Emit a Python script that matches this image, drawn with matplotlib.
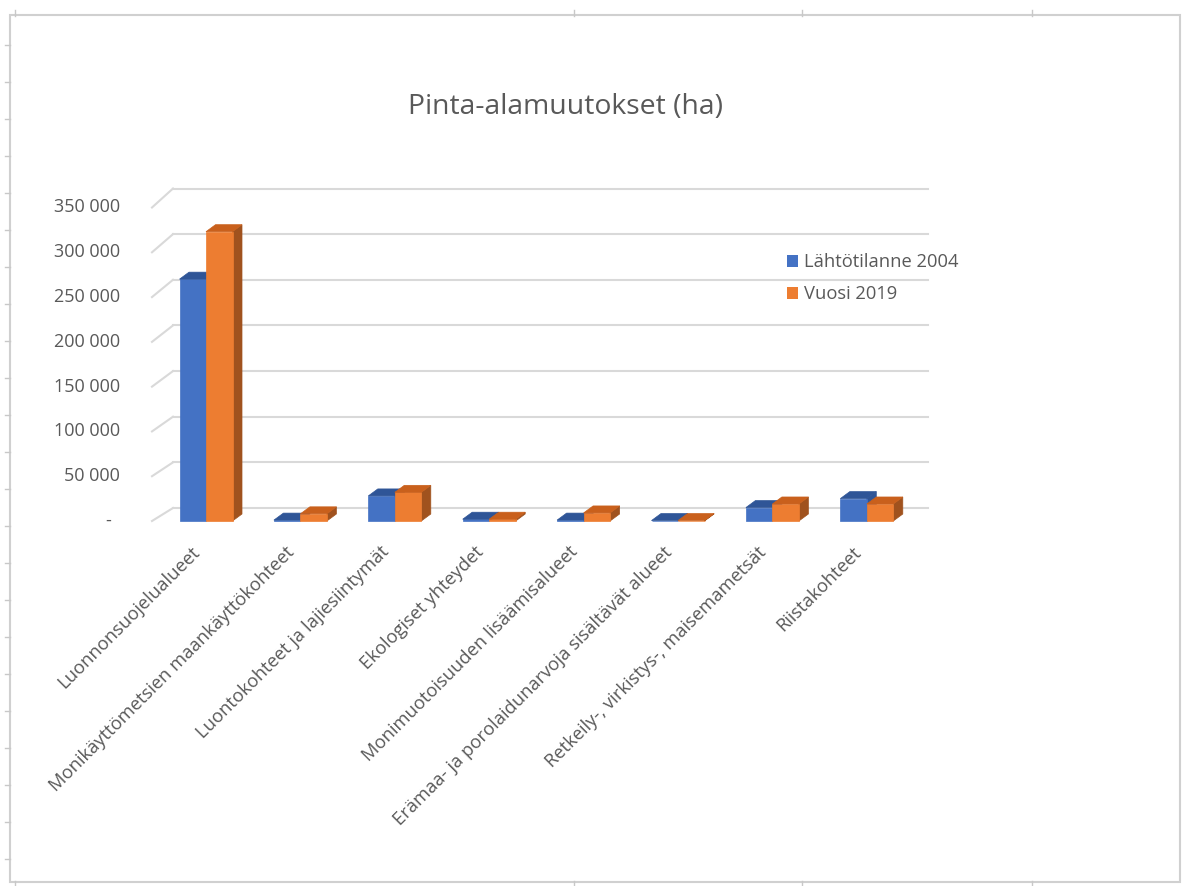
import matplotlib
matplotlib.use("Agg")
import matplotlib.pyplot as plt
from matplotlib.patches import Polygon, Rectangle
from matplotlib.lines import Line2D

plt.rcParams['font.family'] = ['Open Sans', 'DejaVu Sans']

# Data (hectares)
categories = [
    "Luonnonsuojelualueet",
    "Monikäyttömetsien maankäyttökohteet",
    "Luontokohteet ja lajiesiintymät",
    "Ekologiset yhteydet",
    "Monimuotoisuuden lisäämisalueet",
    "Erämaa- ja porolaidunarvoja sisältävät alueet",
    "Retkeily-, virkistys-, maisemametsät",
    "Riistakohteet",
]
series_names = ["Lähtötilanne 2004", "Vuosi 2019"]
values_2004 = [270000, 1000, 28000, 2000, 1000, 500, 15000, 25000]
values_2019 = [323000, 8000, 32000, 2000, 9000, 500, 19000, 19000]
y_ticks = [0, 50000, 100000, 150000, 200000, 250000, 300000, 350000]
y_tick_labels = ["-", "50 000", "100 000", "150 000", "200 000",
                 "250 000", "300 000", "350 000"]

W, H = 1184, 886
BLUE = ["#4472C4", "#2F5597", "#2F5597"]     # front, top, side
ORANGE = ["#ED7D31", "#C9601C", "#A0521E"]
GRID = "#D9D9D9"
TXT = "#595959"


def main():
    fig = plt.figure(figsize=(W / 100, H / 100), dpi=100)

    # page frame and the little spreadsheet tick marks around it
    deco = fig.add_axes([0, 0, 1, 1])
    deco.set_xlim(0, W)
    deco.set_ylim(H, 0)
    deco.axis("off")
    deco.add_patch(Rectangle((10, 15), 1170, 867, fill=False,
                             edgecolor="#D0D0D0", lw=1.5))
    for x in [15, 574, 802, 1032]:
        deco.plot([x, x], [10, 16], color="#C8C8C8", lw=1)
        deco.plot([x, x], [881, 886], color="#C8C8C8", lw=1)
    for y in range(45, 880, 37):
        deco.plot([5, 10], [y, y], color="#C8C8C8", lw=1)

    # main axes: front plane, x = category index, y = value
    x_left, x_right = 158.8, 914.0
    y_zero, y_top = 521.0, 207.5
    ax = fig.add_axes([x_left / W, (H - y_zero) / H,
                       (x_right - x_left) / W, (y_zero - y_top) / H])
    ax.set_xlim(-0.5, 7.5)
    ax.set_ylim(0, 350000)
    ax.axis("off")

    px_x = (x_right - x_left) / 8.0          # pixels per category
    px_y = (y_zero - y_top) / 350000.0       # pixels per unit

    def dx(p):  # pixel column -> category units
        return (p - x_left) / px_x - 0.5

    def wall_dy(v):
        return (13 + 6 * v / 350000) / px_y

    # back wall gridlines + left side wall diagonals
    for v in y_ticks:
        by = v + wall_dy(v)
        ax.add_line(Line2D([dx(173), dx(928)], [by, by],
                           color=GRID, lw=1.5, clip_on=False, zorder=1))
        ax.add_line(Line2D([dx(152), dx(173)], [v, by],
                           color=GRID, lw=1.5, clip_on=False, zorder=1))

    # y tick labels
    for v, lab in zip(y_ticks, y_tick_labels):
        xoff = -48 if lab == "-" else -39
        ax.annotate(lab, xy=(-0.5, v), xytext=(xoff, 0),
                    textcoords="offset pixels", ha="right", va="center",
                    fontsize=13, color=TXT, annotation_clip=False)

    # pseudo 3D columns
    bw = 26.5 / px_x
    bar_dx = 9.5 / px_x
    bar_dy = 7 / px_y
    z = 3
    for i in range(len(categories)):
        for j, (vals, cols) in enumerate([(values_2004, BLUE),
                                          (values_2019, ORANGE)]):
            v = vals[i]
            x0 = i - bw + j * bw
            x1 = x0 + bw
            side = Polygon([(x1, 0), (x1 + bar_dx, bar_dy),
                            (x1 + bar_dx, v + bar_dy), (x1, v)],
                           closed=True, facecolor=cols[2], edgecolor=cols[2],
                           lw=0.5, clip_on=False, zorder=z)
            front = Rectangle((x0, 0), bw, v, facecolor=cols[0],
                              edgecolor=cols[0], lw=0.5, clip_on=False,
                              zorder=z + 1)
            top = Polygon([(x0, v), (x1, v), (x1 + bar_dx, v + bar_dy),
                           (x0 + bar_dx, v + bar_dy)], closed=True,
                          facecolor=cols[1], edgecolor=cols[1], lw=0.5,
                          clip_on=False, zorder=z + 1)
            ax.add_patch(side)
            ax.add_patch(front)
            ax.add_patch(top)
            z += 2

    # category labels, rotated
    for i, lab in enumerate(categories):
        ax.annotate(lab, xy=(i, 0), xytext=(-15, -22),
                    textcoords="offset pixels", ha="right", va="top",
                    rotation=45, rotation_mode="anchor",
                    fontsize=13.2, color=TXT, annotation_clip=False)

    # legend
    handles = [Rectangle((0, 0), 1, 1, facecolor=BLUE[0]),
               Rectangle((0, 0), 1, 1, facecolor=ORANGE[0])]
    fig.legend(handles, series_names, loc="upper left",
               bbox_to_anchor=(770 / W, 1 - 237 / H), frameon=False,
               fontsize=13.2, labelcolor=TXT, handlelength=0.65,
               handleheight=0.65, handletextpad=0.3, labelspacing=0.75)

    # title
    fig.text(566 / W, 1 - 107 / H, "Pinta-alamuutokset (ha)",
             ha="center", va="center", fontsize=20.4, color=TXT)

    fig.savefig("out.png", dpi=100)
    plt.close(fig)


if __name__ == "__main__":
    main()
